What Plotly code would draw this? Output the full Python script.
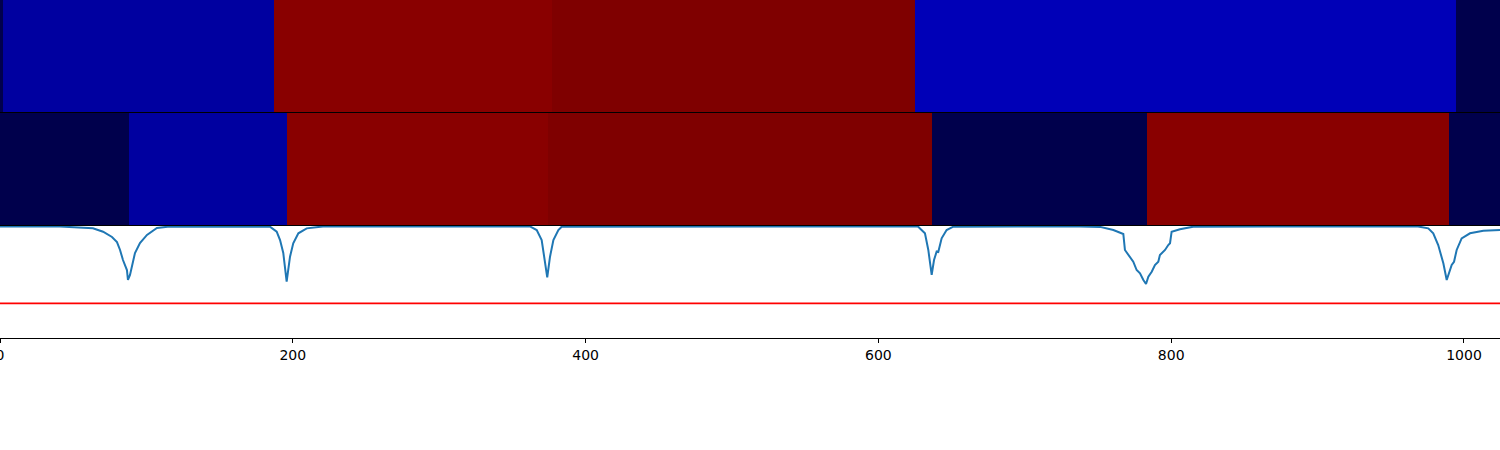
import plotly.graph_objects as go
from plotly.subplots import make_subplots

# ---- segment boundaries (x) and state values for the two heat strips ----
top_edges = [0, 2, 187.2, 376.8, 625, 994.5, 1024.6]
top_values = [-1.0, -0.766, 0.96, 1.0, -0.70, -1.0]

mid_edges = [0, 88.1, 196.3, 374.1, 636.6, 783.3, 989.8, 1024.6]
mid_values = [-1.0, -0.766, 0.96, 1.0, -1.0, 0.96, -1.0]

# ---- score curve ----
score_x = [0, 41, 63.5, 70.4, 76.5, 79.9, 82, 84, 86.7, 87.4, 88.8, 90.2, 92.2, 95.6, 100.4, 107.2, 116,
           184.4, 189, 191.3, 193.5, 195.8, 198.1, 200.3, 203.8, 209.5, 220.6,
           362, 366.6, 370, 372.3, 373.8, 375.7, 378, 381.4, 383.7,
           627, 631.8, 634.1, 636.4, 638, 639.8, 640.9, 643.2, 646.6, 651.2,
           737.7, 751.4, 760.5, 767.3, 768.4, 771.9, 774.1, 776.4, 778.7, 781, 782.8, 784.4, 786.7, 788.9,
           791.2, 792.3, 795.8, 798, 799.2, 800.3, 806, 815,
           968.6, 975.6, 979, 982.4, 985.9, 988.2, 990, 991.6, 993.2, 995, 998.4, 1004.1, 1013.2, 1024.6]
score_y = [0.996, 0.996, 0.979, 0.949, 0.902, 0.857, 0.786, 0.696, 0.607, 0.518, 0.563, 0.643, 0.759, 0.848, 0.920, 0.982, 0.996,
           0.994, 0.949, 0.875, 0.759, 0.503, 0.726, 0.846, 0.935, 0.979, 0.996,
           0.996, 0.964, 0.875, 0.696, 0.542, 0.726, 0.875, 0.964, 0.994,
           0.996, 0.935, 0.786, 0.563, 0.696, 0.772, 0.768, 0.890, 0.964, 0.994,
           0.996, 0.992, 0.964, 0.929, 0.786, 0.726, 0.681, 0.607, 0.578, 0.518, 0.482, 0.547, 0.592, 0.652,
           0.681, 0.741, 0.786, 0.830, 0.846, 0.949, 0.971, 0.994,
           0.996, 0.979, 0.935, 0.830, 0.667, 0.518, 0.592, 0.652, 0.681, 0.786, 0.890, 0.935, 0.958, 0.964]

threshold = 0.31
x_ticks = [0, 200, 400, 600, 800, 1000]
x_max = 1024.6

seismic = [[0.0, "rgb(0,0,76)"], [0.25, "rgb(0,0,255)"], [0.5, "rgb(255,255,255)"],
           [0.75, "rgb(255,0,0)"], [1.0, "rgb(127,0,0)"]]

fig = make_subplots(rows=3, cols=1, shared_xaxes=False, vertical_spacing=0)

fig.add_trace(go.Heatmap(x=top_edges, y=[0, 1], z=[top_values], colorscale=seismic,
                         zmin=-1, zmax=1, showscale=False), row=1, col=1)
fig.add_trace(go.Heatmap(x=mid_edges, y=[0, 1], z=[mid_values], colorscale=seismic,
                         zmin=-1, zmax=1, showscale=False), row=2, col=1)
fig.add_trace(go.Scatter(x=score_x, y=score_y, mode="lines",
                         line=dict(color="#1f77b4", width=2), showlegend=False), row=3, col=1)
fig.add_hline(y=threshold, line=dict(color="red", width=1.8), row=3, col=1)

H = 338.0
doms = [[1 - 112 / H, 1.0], [(H - 225) / H, (H - 113) / H], [0.0, (H - 226) / H]]
for i, d in enumerate(doms, start=1):
    ax = "" if i == 1 else str(i)
    fig.layout["yaxis" + ax].update(domain=d, showticklabels=False, ticks="", showgrid=False,
                                     zeroline=False, showline=True, mirror=True, automargin=False,
                                     linecolor="black", linewidth=1,
                                     range=[0, 1] if i == 3 else None, fixedrange=True)
    fig.layout["xaxis" + ax].update(range=[0, x_max], showgrid=False, zeroline=False,
                                     showline=True, mirror=(i != 1), linecolor="black", linewidth=1,
                                     side="top" if i == 1 else "bottom",
                                     automargin=False,
                                     showticklabels=(i == 3), ticks="outside" if i == 3 else "",
                                     tickvals=x_ticks if i == 3 else None, ticklen=4,
                                     tickcolor="black", ticklabeloverflow="allow",
                                     tickfont=dict(family="DejaVu Sans", size=14, color="black"))

fig.update_layout(width=1500, height=450, margin=dict(l=0, r=0, t=0, b=112, autoexpand=False),
                  plot_bgcolor="white", paper_bgcolor="white", showlegend=False)

fig.write_html("out.html", config={"displayModeBar": False},
               post_script="document.body.style.margin='0px';")
